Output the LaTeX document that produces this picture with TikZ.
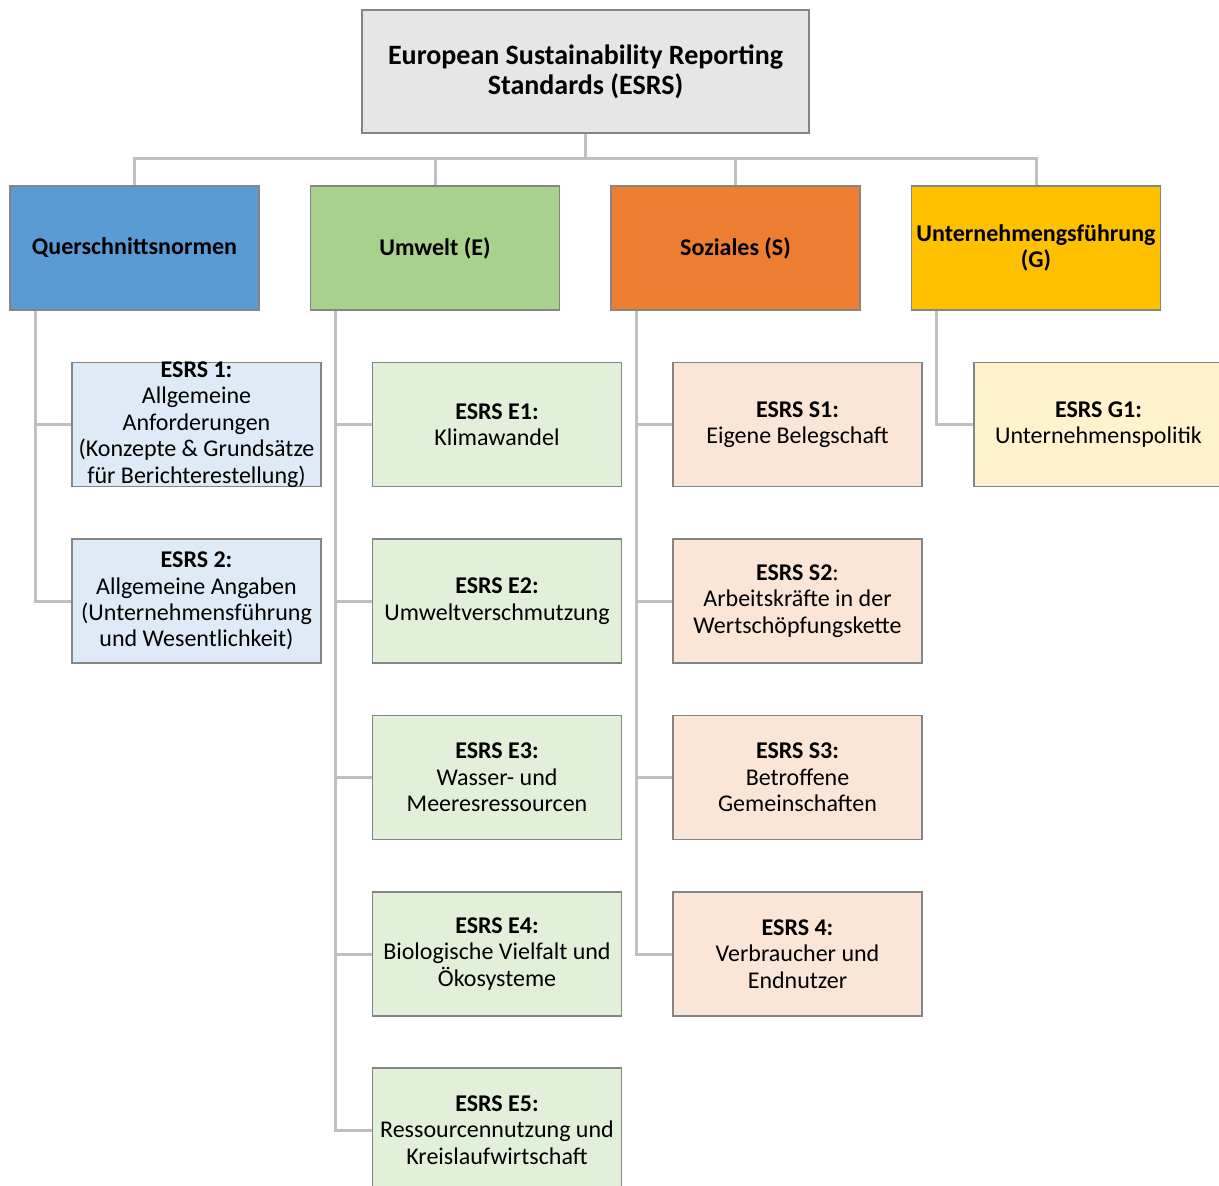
\documentclass[tikz,border=0pt]{standalone}
\usepackage{fontspec}
\setmainfont{Carlito}
\usetikzlibrary{positioning}

\definecolor{topgray}{HTML}{E6E6E6}
\definecolor{boxline}{HTML}{858585}
\definecolor{linkgray}{HTML}{BFBFBF}
\definecolor{qblue}{HTML}{5B9BD5}
\definecolor{ugreen}{HTML}{A9D18E}
\definecolor{sorange}{HTML}{ED7D31}
\definecolor{gyellow}{HTML}{FFC000}
\definecolor{qlight}{HTML}{DEEBF7}
\definecolor{ulight}{HTML}{E2F0D9}
\definecolor{slight}{HTML}{FBE5D6}
\definecolor{glight}{HTML}{FFF2CC}

\begin{document}
\begin{tikzpicture}
[x=0.5pt,y=-0.5pt,
 box/.style={draw=boxline,line width=0.75pt,minimum width=124.5pt,minimum height=62pt,inner sep=1pt,align=center,font=\fontsize{12}{13.2}\selectfont},
 head/.style={box,font=\fontsize{12}{13.2}\selectfont\bfseries},
 link/.style={draw=linkgray,line width=1.5pt}]
\useasboundingbox (0,0) rectangle (1219,1186);
\clip (0,0) rectangle (1219,1186);

% top
\node[head,fill=topgray,minimum width=223.5pt,minimum height=61.5pt,font=\fontsize{14}{15}\selectfont\bfseries] (esrs) at (585.5,71.5) {European Sustainability Reporting\\Standards (ESRS)};

% categories
\node[head,fill=qblue] (q) at (134.5,248) {Querschnittsnormen};
\node[head,fill=ugreen] (u) at (435,248) {Umwelt (E)};
\node[head,fill=sorange] (s) at (735.5,248) {Soziales (S)};
\node[head,fill=gyellow] (g) at (1036,248) {Unternehmengsführung\\(G)};

% standards
\node[box,fill=qlight,inner ysep=-1.5pt] (q1) at (196.5,424.5) {\textbf{ESRS 1:}\\Allgemeine\\Anforderungen\\(Konzepte \& Grundsätze\\für Berichterestellung)};
\node[box,fill=qlight] (q2) at (196.5,601) {\textbf{ESRS 2:}\\Allgemeine Angaben\\(Unternehmensführung\\und Wesentlichkeit)};

\node[box,fill=ulight] (u1) at (497,424.5) {\textbf{ESRS E1:}\\Klimawandel};
\node[box,fill=ulight] (u2) at (497,601) {\textbf{ESRS E2:}\\Umweltverschmutzung};
\node[box,fill=ulight] (u3) at (497,777.5) {\textbf{ESRS E3:}\\Wasser- und\\Meeresressourcen};
\node[box,fill=ulight] (u4) at (497,954) {\textbf{ESRS E4:}\\Biologische Vielfalt und\\Ökosysteme};
\node[box,fill=ulight] (u5) at (497,1130) {\textbf{ESRS E5:}\\Ressourcennutzung und\\Kreislaufwirtschaft};

\node[box,fill=slight] (s1) at (797.5,424.5) {\textbf{ESRS S1:}\\Eigene Belegschaft};
\node[box,fill=slight] (s2) at (797.5,601) {\textbf{ESRS S2}:\\Arbeitskräfte in der\\Wertschöpfungskette};
\node[box,fill=slight] (s3) at (797.5,777.5) {\textbf{ESRS S3:}\\Betroffene\\Gemeinschaften};
\node[box,fill=slight] (s4) at (797.5,954) {\textbf{ESRS 4:}\\Verbraucher und\\Endnutzer};

\node[box,fill=glight] (g1) at (1098.5,424.5) {\textbf{ESRS G1:}\\Unternehmenspolitik};

% connectors
\foreach \c in {q,u,s,g}
  \draw[link] (esrs.south) |- ([yshift=13.5pt]\c.north) -- (\c.north);
\foreach \c in {q1,q2}
  \draw[link] ([xshift=13pt]q.south west) |- (\c.west);
\foreach \c in {u1,u2,u3,u4,u5}
  \draw[link] ([xshift=13pt]u.south west) |- (\c.west);
\foreach \c in {s1,s2,s3,s4}
  \draw[link] ([xshift=13pt]s.south west) |- (\c.west);
\draw[link] ([xshift=13pt]g.south west) |- (g1.west);
\end{tikzpicture}
\end{document}
